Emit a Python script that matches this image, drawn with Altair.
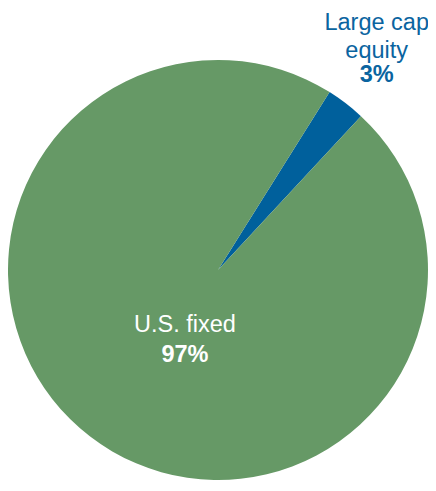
import math
import altair as alt
import pandas as pd

# Data
categories = ["Large cap equity", "U.S. fixed"]
display_names = ["Large cap\nequity", "U.S. fixed"]
values = [3, 97]
slice_order = [0, 1]
slice_colors = ["#00609c", "#669966"]

df = pd.DataFrame({
    "category": categories,
    "name": display_names,
    "value": values,
    "ord": slice_order,
})

start = math.radians(32.1)
theta_scale = alt.Scale(range=[start, start + 2 * math.pi])
FONT = "Liberation Sans"

base = alt.Chart(df).encode(
    theta=alt.Theta("value:Q", stack=True, scale=theta_scale),
    order=alt.Order("ord:Q", sort="ascending"),
)

pie = base.mark_arc(radius=210, stroke=None).encode(
    color=alt.Color("category:N",
                    scale=alt.Scale(domain=categories, range=slice_colors),
                    legend=None)
)


def label_layer(cat, field_expr, radius, dx, dy, color, bold, line_height=28):
    return base.transform_calculate(
        lbl=f"datum.category == '{cat}' ? {field_expr} : ''"
    ).mark_text(
        radius=radius, dx=dx, dy=dy, font=FONT, fontSize=23.5,
        fontWeight="bold" if bold else "normal", color=color,
        align="center", baseline="alphabetic", lineBreak="\n",
        lineHeight=line_height,
    ).encode(
        detail="category:N",
        text="lbl:N",
    )


blue_txt = "#0a64a0"
layers = [
    pie,
    label_layer("Large cap equity", "datum.name", 255, 3.5, -38.0, blue_txt, False),
    label_layer("Large cap equity", "datum.value + '%'", 255, 3.5, 14.8, blue_txt, True),
    label_layer("U.S. fixed", "datum.name", 57.5, 2, 16.1, "white", False),
    label_layer("U.S. fixed", "datum.value + '%'", 57.5, 2, 46.7, "white", True),
]

chart = alt.layer(*layers).properties(
    width=420,
    height=420,
    padding={"left": 0, "top": 52, "right": 0, "bottom": 2},
    autosize="none",
).configure_view(stroke=None).configure(background="white")

chart.save("out.html", embed_options={"renderer": "svg", "actions": False})
